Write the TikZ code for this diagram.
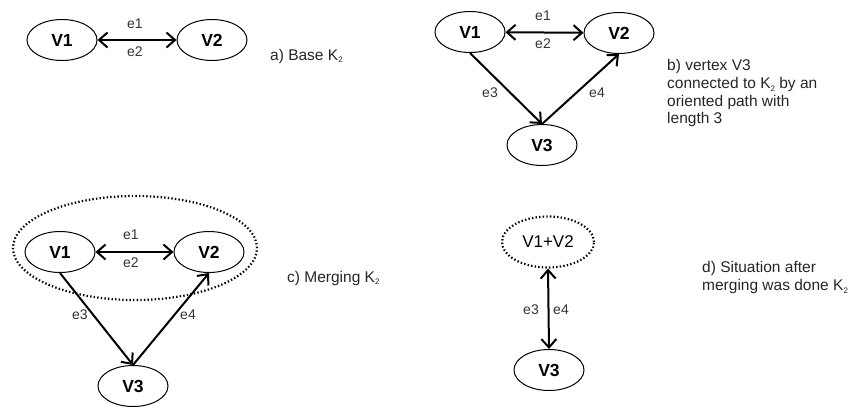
\documentclass[tikz,border=0pt]{standalone}
\usepackage{fontspec}
\setmainfont{Liberation Sans}
\usetikzlibrary{shapes.geometric,arrows.meta}
\newcommand\ktwo{K\raisebox{-0.35ex}{\fontsize{8}{8}\selectfont 2}}
\begin{document}
\begin{tikzpicture}[x=1pt,y=-1pt,
  vert/.style={ellipse,draw,line width=1pt,minimum width=70pt,minimum height=41pt,inner sep=0pt,font=\fontsize{17.5}{20}\selectfont\bfseries},
  merged/.style={ellipse,draw,line width=2.2pt,dash pattern=on 1.4pt off 2.2pt,inner sep=0pt},
  dirarr/.style={line width=2pt,-{Straight Barb[length=8.5pt,width=15pt]}},
  biarr/.style={line width=2pt,{Straight Barb[length=8.5pt,width=15pt]}-{Straight Barb[length=8.5pt,width=15pt]}},
  elab/.style={font=\fontsize{14}{16}\selectfont,text=black!80,inner sep=0pt},
  desc/.style={font=\fontsize{15.5}{17.8}\selectfont,text=black!85,align=left,anchor=west,inner sep=0pt}
]
\useasboundingbox (0,0) rectangle (864,408);
% panel a
\node[vert] (a1) at (62,40) {V1};
\node[vert] (a2) at (212,40) {V2};
\draw[biarr] (a1) -- (a2);
\node[elab] (ae1) at (135,24) {e1};
\node[elab] (ae2) at (135,52) {e2};
\node[desc] (alab) at (270,56) {a) Base \ktwo};
% panel b
\node[vert] (b1) at (470,32) {V1};
\node[vert] (b2) at (619,33) {V2};
\node[vert] (b3) at (542,145) {V3};
\draw[biarr] (b1) -- (b2);
\draw[dirarr] (b1.south) -- (b3.north);
\draw[dirarr] (b3.north) -- (b2.south);
\node[elab] (be1) at (543,16) {e1};
\node[elab] (be2) at (543,44) {e2};
\node[elab] (be3) at (490,93) {e3};
\node[elab] (be4) at (597,93) {e4};
\node[desc,anchor=north west] (blab) at (667,59) {b) vertex V3\\connected to \ktwo\ by an\\oriented path with\\length 3};
% panel c
\node[merged,minimum width=244pt,minimum height=104pt] (cm) at (135,248) {};
\node[vert] (c1) at (60,252) {V1};
\node[vert] (c2) at (209,252) {V2};
\node[vert] (c3) at (133,386) {V3};
\draw[biarr] (c1) -- (c2);
\draw[dirarr] (c1.south) -- (c3.north);
\draw[dirarr] (c3.north) -- (c2.south);
\node[elab] (ce1) at (131,235) {e1};
\node[elab] (ce2) at (131,263) {e2};
\node[elab] (ce3) at (80,315) {e3};
\node[elab] (ce4) at (188,315) {e4};
\node[desc] (clab) at (287,278) {c) Merging \ktwo};
% panel d
\node[merged,minimum width=92pt,minimum height=51pt,font=\fontsize{17}{20}\selectfont] (dm) at (548,242) {V1+V2};
\node[vert] (d3) at (549,370) {V3};
\draw[biarr] (dm.south) -- (d3.north);
\node[elab] (de3) at (531,310) {e3};
\node[elab] (de4) at (561,310) {e4};
\node[desc,anchor=north west] (dlab) at (702,261) {d) Situation after\\merging was done \ktwo};
\end{tikzpicture}
\end{document}
